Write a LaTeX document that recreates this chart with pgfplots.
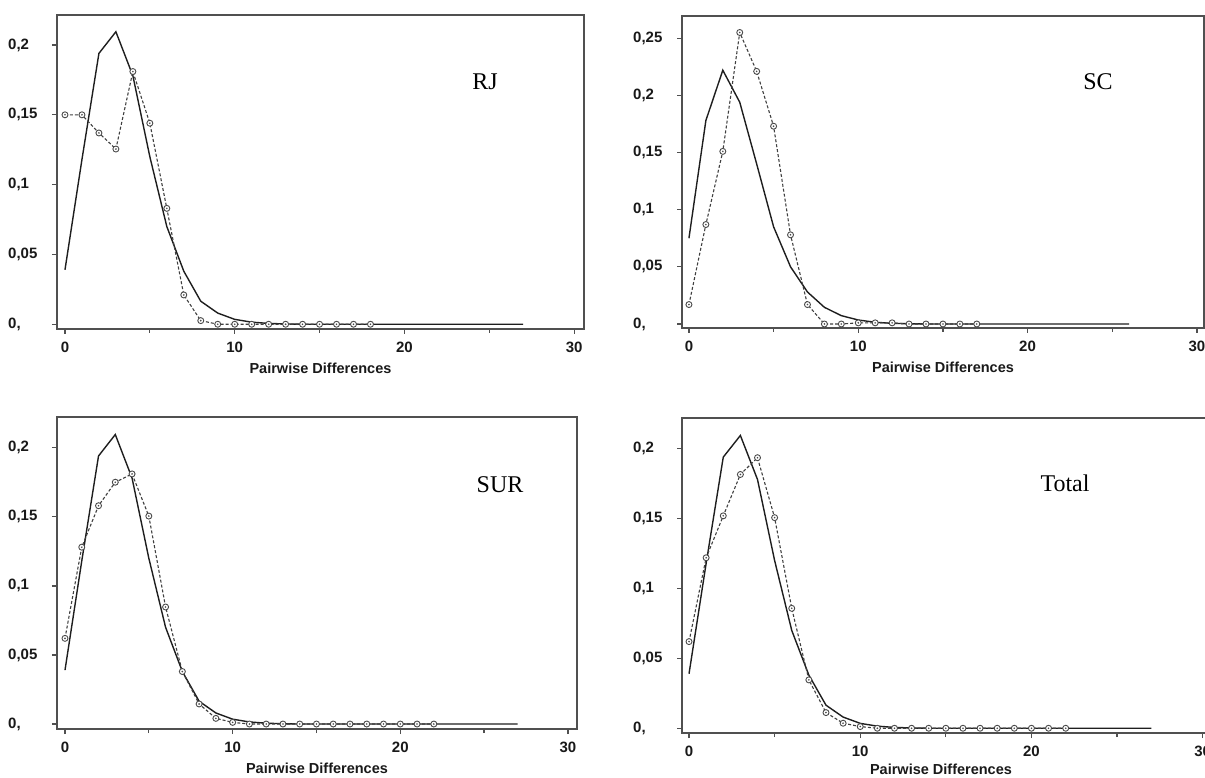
\documentclass[border=0pt]{standalone}
\usepackage{fontspec}
\setmainfont{Liberation Serif}
\setsansfont{Liberation Sans}
\usepackage{pgfplots}
\usepackage{pgfplotstable}
\pgfplotsset{compat=1.18}

\definecolor{framegray}{HTML}{505050}
\definecolor{linegray}{HTML}{1E1E1E}
\definecolor{dashgray}{HTML}{404040}
\definecolor{markgray}{HTML}{4A4A4A}

% circle with a dot in the middle
\pgfdeclareplotmark{odot}{%
  \pgfpathcircle{\pgfpointorigin}{\pgfplotmarksize}%
  \pgfsetfillcolor{white}\pgfusepathqfillstroke
  \pgfsetfillcolor{markgray}%
  \pgfpathcircle{\pgfpointorigin}{0.9pt}\pgfusepathqfill}

% expected distribution (same curve in RJ, SUR, Total)
\pgfplotstableread{
x y
0 0.039
1 0.118
2 0.194
3 0.2095
4 0.178
5 0.120
6 0.070
7 0.038
8 0.0165
9 0.0080
10 0.0035
11 0.0015
12 0.0006
13 0.0002
14 0
15 0
20 0
27 0
}\expA

\pgfplotstableread{
x y
0 0.075
1 0.178
2 0.222
3 0.194
4 0.140
5 0.085
6 0.050
7 0.028
8 0.0146
9 0.0073
10 0.0035
11 0.0015
12 0.0006
13 0.0002
14 0
20 0
26 0
}\expSC

% observed distributions
\pgfplotstableread{
x y
0 0.150
1 0.150
2 0.137
3 0.1255
4 0.181
5 0.144
6 0.083
7 0.021
8 0.0026
9 0
10 0
11 0
12 0
13 0
14 0
15 0
16 0
17 0
18 0
}\obsRJ

\pgfplotstableread{
x y
0 0.017
1 0.087
2 0.151
3 0.255
4 0.221
5 0.173
6 0.078
7 0.017
8 0
9 0
10 0.001
11 0.001
12 0.001
13 0
14 0
15 0
16 0
17 0
}\obsSC

\pgfplotstableread{
x y
0 0.062
1 0.128
2 0.158
3 0.175
4 0.181
5 0.1505
6 0.0847
7 0.038
8 0.0145
9 0.0041
10 0.0012
11 0
12 0
13 0
14 0
15 0
16 0
17 0
18 0
19 0
20 0
21 0
22 0
}\obsSUR

\pgfplotstableread{
x y
0 0.062
1 0.122
2 0.152
3 0.1816
4 0.1936
5 0.1507
6 0.0858
7 0.0346
8 0.0112
9 0.0036
10 0.0012
11 0
12 0
13 0
14 0
15 0
16 0
17 0
18 0
19 0
20 0
21 0
22 0
}\obsTotal

\pgfplotsset{
  panel/.style={
    scale only axis,
    clip=false,
    axis line style={framegray, line width=1.8pt},
    tick style={framegray, line width=1.3pt},
    tick align=outside,
    xtick pos=lower, ytick pos=left,
    major tick length=5pt, minor tick length=4pt,
    xtick={0,10,20,30}, xticklabels={0,10,20,30},
    minor xtick={5,15,25},
    ticklabel style={font=\sffamily\bfseries\fontsize{15}{15}\selectfont, text=black!90},
    yticklabel style={anchor=west, inner sep=0pt, xshift=-44pt},
    xticklabel style={anchor=north, inner sep=0pt, yshift=-8pt},
    xlabel={Pairwise Differences},
    xlabel style={font=\sffamily\bfseries\fontsize{14.5}{14.5}\selectfont, text=black!90,
      at={(axis description cs:0.5,0)}, anchor=center, yshift=-39pt},
  },
  expected/.style={linegray, line width=1.4pt, no marks},
  observed/.style={dashgray, line width=1.1pt, dash pattern=on 3pt off 2pt,
    mark=odot, mark size=3pt,
    mark options={solid, draw=markgray, line width=0.9pt}},
}

\begin{document}
\begin{tikzpicture}
\useasboundingbox (0,0) rectangle (1205pt,777pt);
\clip (0,0) rectangle (1205pt,777pt);

% RJ
\begin{axis}[panel, at={(57pt,448pt)}, anchor=south west,
  width=527pt, height=314pt,
  xmin=-0.47, xmax=30.58, ymin=-0.0034, ymax=0.2215,
  ytick={0,0.05,0.1,0.15,0.2}, yticklabels={{0,},{0,05},{0,1},{0,15},{0,2}}]
\addplot[expected] table {\expA};
\addplot[observed] table {\obsRJ};
\end{axis}

% SC
\begin{axis}[panel, at={(682pt,449pt)}, anchor=south west,
  width=522pt, height=312.3pt,
  xmin=-0.41, xmax=30.42, ymin=-0.0035, ymax=0.2697,
  ytick={0,0.05,0.1,0.15,0.2,0.25}, yticklabels={{0,},{0,05},{0,1},{0,15},{0,2},{0,25}}]
\addplot[expected] table {\expSC};
\addplot[observed] table {\obsSC};
\end{axis}

% SUR
\begin{axis}[panel, at={(57pt,48pt)}, anchor=south west,
  width=520pt, height=312pt,
  xmin=-0.477, xmax=30.54, ymin=-0.0036, ymax=0.2222,
  ytick={0,0.05,0.1,0.15,0.2}, yticklabels={{0,},{0,05},{0,1},{0,15},{0,2}}]
\addplot[expected] table {\expA};
\addplot[observed] table {\obsSUR};
\end{axis}

% Total
\begin{axis}[panel, at={(682pt,44pt)}, anchor=south west,
  width=534pt, height=315pt,
  xmin=-0.41, xmax=30.78, ymin=-0.0034, ymax=0.222,
  xlabel style={at={(axis description cs:0.485,0)}, yshift=3pt},
  ytick={0,0.05,0.1,0.15,0.2}, yticklabels={{0,},{0,05},{0,1},{0,15},{0,2}}]
\addplot[expected] table {\expA};
\addplot[observed] table {\obsTotal};
\end{axis}

\node[font=\fontsize{24}{24}\selectfont] at (485pt,695pt) {RJ};
\node[font=\fontsize{24}{24}\selectfont] at (1098pt,695pt) {SC};
\node[font=\fontsize{24}{24}\selectfont] at (500pt,292pt) {SUR};
\node[font=\fontsize{24}{24}\selectfont] at (1065pt,294pt) {Total};
\end{tikzpicture}
\end{document}
